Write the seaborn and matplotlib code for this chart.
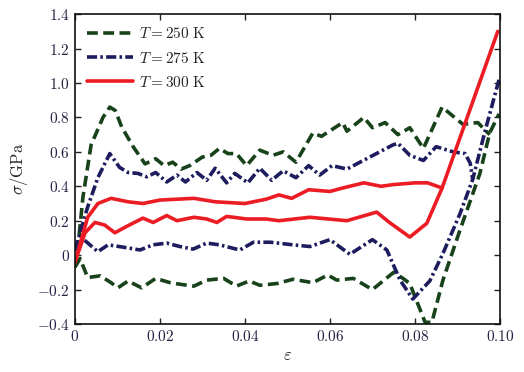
import matplotlib
matplotlib.use("Agg")
import matplotlib.pyplot as plt
import matplotlib.ticker as mticker
import seaborn as sns

# strain / stress curves (upper and lower branch per temperature)
# T = 250 K
g_hi_x = [0, 0.001, 0.0019, 0.0038, 0.0066, 0.0082, 0.0095, 0.011, 0.0137, 0.0165, 0.019, 0.021,
          0.023, 0.025, 0.027, 0.030, 0.032, 0.034, 0.036, 0.038, 0.0404, 0.0435, 0.0466, 0.049,
          0.052, 0.056, 0.058, 0.063, 0.064, 0.068, 0.070, 0.073, 0.076, 0.0788, 0.082, 0.0864,
          0.0913, 0.0948, 0.0976]
g_hi_y = [-0.07, 0.12, 0.34, 0.64, 0.80, 0.86, 0.84, 0.745, 0.63, 0.53, 0.56, 0.52,
          0.54, 0.50, 0.52, 0.57, 0.58, 0.62, 0.59, 0.59, 0.52, 0.61, 0.58, 0.60,
          0.54, 0.71, 0.69, 0.77, 0.72, 0.80, 0.74, 0.77, 0.70, 0.74, 0.62, 0.86,
          0.76, 0.77, 0.70]
g_lo_x = [0, 0.0012, 0.003, 0.006, 0.0085, 0.0101, 0.0125, 0.0157, 0.019, 0.0224, 0.025, 0.028,
          0.031, 0.035, 0.038, 0.041, 0.0435, 0.0475, 0.0513, 0.056, 0.0595, 0.0616, 0.0655,
          0.070, 0.075, 0.0772, 0.0788, 0.0824, 0.084, 0.0866, 0.0906, 0.0953, 0.0976, 0.0998]
g_lo_y = [-0.07, -0.02, -0.13, -0.12, -0.16, -0.19, -0.15, -0.19, -0.135, -0.16, -0.17, -0.18,
          -0.145, -0.135, -0.18, -0.15, -0.175, -0.165, -0.14, -0.16, -0.115, -0.145, -0.135,
          -0.20, -0.10, -0.135, -0.165, -0.39, -0.39, -0.145, 0.145, 0.475, 0.71, 0.82]

# T = 275 K
n_hi_x = [0, 0.003, 0.0054, 0.0082, 0.0105, 0.0125, 0.0148, 0.0169, 0.019, 0.0216, 0.024, 0.026,
          0.0287, 0.031, 0.033, 0.0357, 0.0376, 0.0407, 0.0435, 0.0463, 0.049, 0.052, 0.055,
          0.0576, 0.0605, 0.064, 0.0694, 0.0748, 0.076, 0.0788, 0.082, 0.085, 0.089, 0.0918,
          0.093, 0.0936]
n_hi_y = [0.03, 0.28, 0.45, 0.59, 0.51, 0.48, 0.475, 0.455, 0.48, 0.425, 0.465, 0.425,
          0.48, 0.435, 0.505, 0.42, 0.475, 0.42, 0.505, 0.435, 0.49, 0.45, 0.52,
          0.465, 0.52, 0.50, 0.57, 0.64, 0.65, 0.58, 0.55, 0.63, 0.60, 0.59,
          0.535, 0.44]
n_lo_x = [0, 0.0014, 0.0054, 0.0078, 0.013, 0.0153, 0.0184, 0.0216, 0.0247, 0.0278, 0.031, 0.034,
          0.0388, 0.042, 0.046, 0.0513, 0.0553, 0.060, 0.0647, 0.070, 0.0734, 0.0765, 0.0795,
          0.0835, 0.0866, 0.0906, 0.0936, 0.0965, 0.0998]
n_lo_y = [0.03, 0.105, 0.02, 0.06, 0.04, 0.03, 0.06, 0.07, 0.05, 0.035, 0.07, 0.06,
          0.03, 0.075, 0.075, 0.06, 0.05, 0.09, 0.005, 0.09, 0.03, -0.145, -0.255,
          -0.15, 0.01, 0.24, 0.44, 0.72, 1.02]

# T = 300 K
r_hi_x = [0, 0.003, 0.0054, 0.0085, 0.0125, 0.016, 0.020, 0.028, 0.033, 0.040, 0.045, 0.048,
          0.051, 0.055, 0.060, 0.063, 0.068, 0.072, 0.075, 0.080, 0.083, 0.0864, 0.0995]
r_hi_y = [-0.04, 0.22, 0.30, 0.33, 0.31, 0.30, 0.32, 0.33, 0.31, 0.30, 0.325, 0.35,
          0.33, 0.38, 0.37, 0.39, 0.42, 0.40, 0.41, 0.42, 0.42, 0.39, 1.30]
r_lo_x = [0, 0.0024, 0.0047, 0.007, 0.0094, 0.012, 0.016, 0.0184, 0.0216, 0.024, 0.028, 0.031,
          0.0334, 0.0357, 0.0404, 0.045, 0.048, 0.0553, 0.064, 0.071, 0.074, 0.0788, 0.0828,
          0.0864]
r_lo_y = [-0.04, 0.13, 0.19, 0.175, 0.13, 0.165, 0.215, 0.19, 0.23, 0.20, 0.22, 0.21,
          0.19, 0.225, 0.21, 0.21, 0.20, 0.22, 0.20, 0.25, 0.19, 0.105, 0.185,
          0.39]

labels = [r"$T = 250\ \mathrm{K}$", r"$T = 275\ \mathrm{K}$", r"$T = 300\ \mathrm{K}$"]
colors = ["#17421a", "#1c1c5e", "#ec1c24"]
styles = [(0, (3.0, 1.5)), (0, (2.8, 0.9, 0.7, 0.9)), "-"]

sns.set_style("ticks")
plt.rcParams["mathtext.fontset"] = "cm"
plt.rcParams["font.family"] = ["cmr10", "DejaVu Serif"]
plt.rcParams["axes.unicode_minus"] = False

fig = plt.figure(figsize=(5.24, 3.72), dpi=100)
ax = fig.add_axes([0.143, 0.129, 0.811, 0.833])

curves = [(g_hi_x, g_hi_y, g_lo_x, g_lo_y), (n_hi_x, n_hi_y, n_lo_x, n_lo_y),
          (r_hi_x, r_hi_y, r_lo_x, r_lo_y)]
for (hx, hy, lx, ly), lab, c, ls in zip(curves, labels, colors, styles):
    sns.lineplot(x=hx, y=hy, sort=False, estimator=None, color=c, linestyle=ls,
                 lw=2.6, label=lab, ax=ax, solid_joinstyle="round", dash_joinstyle="round")
    sns.lineplot(x=lx, y=ly, sort=False, estimator=None, color=c, linestyle=ls,
                 lw=2.6, ax=ax, solid_joinstyle="round", dash_joinstyle="round")

ax.set_xlim(0, 0.10)
ax.set_ylim(-0.4, 1.4)
ax.set_xticks([0, 0.02, 0.04, 0.06, 0.08, 0.10])
ax.set_yticks([-0.4, -0.2, 0, 0.2, 0.4, 0.6, 0.8, 1.0, 1.2, 1.4])


def fmt_x(v, pos):
    if abs(v) < 1e-9:
        return r"$0$"
    return r"$%.2f$" % v


def fmt_y(v, pos):
    if abs(v) < 1e-9:
        return r"$0$"
    return r"$%.1f$" % v


ax.xaxis.set_major_formatter(mticker.FuncFormatter(fmt_x))
ax.yaxis.set_major_formatter(mticker.FuncFormatter(fmt_y))
ax.tick_params(direction="in", top=True, right=True, length=4, width=1, labelsize=11,
               colors="#222222", labelcolor="#222244")
for sp in ax.spines.values():
    sp.set_linewidth(1.2)
    sp.set_color("#111111")

ax.set_xlabel(r"$\varepsilon$", fontsize=12, labelpad=3)
ax.set_ylabel(r"$\sigma/\mathrm{GPa}$", fontsize=12, labelpad=5)

ax.legend(loc="upper left", frameon=False, fontsize=11, handlelength=3.0,
          handletextpad=0.4, labelspacing=0.6, borderaxespad=0.4)

fig.savefig("out.png", dpi=100)
